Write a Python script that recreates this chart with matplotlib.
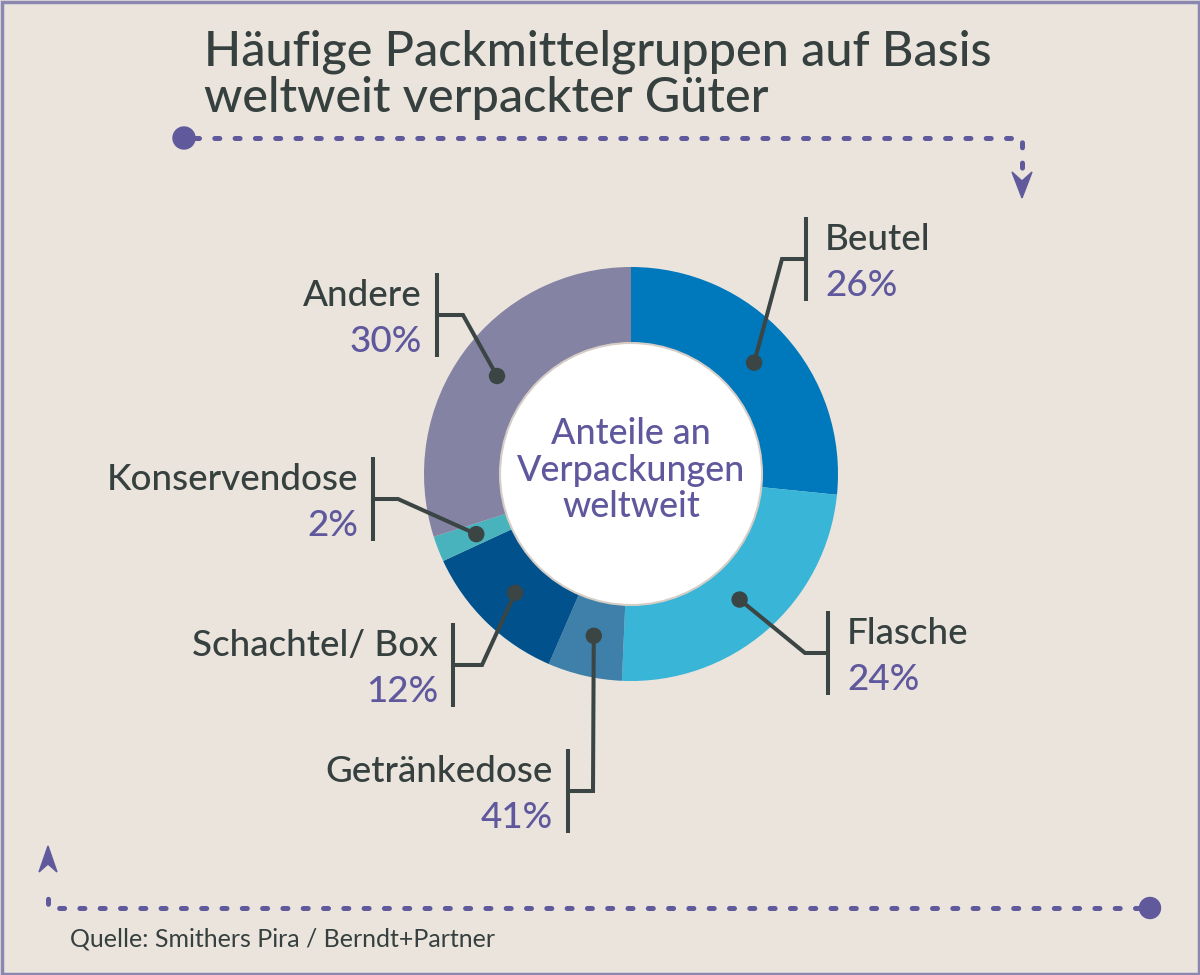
import numpy as np
import matplotlib
matplotlib.use('Agg')
import matplotlib.pyplot as plt
from matplotlib.patches import Circle, Polygon, Rectangle

plt.rcParams['font.family'] = ['Lato', 'DejaVu Sans']

# Data (slice shares as drawn, labels as printed)
categories = ['Beutel', 'Flasche', 'Getränkedose', 'Schachtel/ Box', 'Konservendose', 'Andere']
shares = [26.6, 24.1, 5.8, 11.6, 2.0, 29.9]
pct_labels = ['26%', '24%', '41%', '12%', '2%', '30%']
slice_colors = ['#0078BC', '#38B5D7', '#3E80A9', '#01518C', '#48B2BD', '#8483A4']

# Label layout: bracket x, bracket centre y, elbow x, side
bar_x = [806, 828, 568, 453, 373, 437]
bar_y = [259, 653, 791, 665, 499, 315]
elbow_x = [782, 805, 593, 482, 398, 463]
side = ['right', 'right', 'left', 'left', 'left', 'left']

BG = '#EAE4DD'
DARK = '#36403F'
PURPLE = '#5F589D'
LINE = '#3B4544'

fig = plt.figure(figsize=(12, 9.75), dpi=100, facecolor=BG)
ax = fig.add_axes([0, 0, 1, 1])
ax.set_facecolor(BG)

cx, cy, R, r_in = 631, 474, 207, 131

# y axis will be inverted -> start at -90 and go counterclockwise in data
wedges, _ = ax.pie(shares, colors=slice_colors, startangle=-90, counterclock=True,
                   radius=R, center=(cx, cy), wedgeprops=dict(linewidth=0))
ax.add_patch(Circle((cx, cy), r_in, facecolor='white', edgecolor='#D6CEC6',
                    linewidth=1.5, zorder=3))

for txt, yb in [('Anteile an', 444), ('Verpackungen', 481), ('weltweit', 517)]:
    ax.text(cx, yb, txt, ha='center', va='baseline', fontsize=25.8,
            fontweight='medium', color=PURPLE, zorder=4)

# leader lines, dots, brackets and labels
for i, w in enumerate(wedges):
    mid = np.deg2rad((w.theta1 + w.theta2) / 2)
    dx = cx + 166 * np.cos(mid)
    dy = cy + 166 * np.sin(mid)
    hy = bar_y[i]
    ax.plot([dx, elbow_x[i], bar_x[i]], [dy, hy, hy], color=LINE, lw=2.9,
            solid_joinstyle='miter', zorder=5)
    ax.plot([bar_x[i], bar_x[i]], [hy - 42, hy + 42], color=LINE, lw=2.9,
            solid_capstyle='butt', zorder=5)
    ax.add_patch(Circle((dx, dy), 7.5, color=LINE, zorder=6))
    if side[i] == 'right':
        tx, ha = bar_x[i] + 19, 'left'
    else:
        tx, ha = bar_x[i] - 15, 'right'
    ax.text(tx, hy - 9, categories[i], ha=ha, va='baseline', fontsize=26.5,
            fontweight='medium', color=DARK)
    ax.text(tx, hy + 37, pct_labels[i], ha=ha, va='baseline', fontsize=26.5,
            fontweight='medium', color=PURPLE)

# title
ax.text(204, 65, 'Häufige Packmittelgruppen auf Basis', ha='left', va='baseline',
        fontsize=35, fontweight='medium', color=DARK)
ax.text(204, 112, 'weltweit verpackter Güter', ha='left', va='baseline',
        fontsize=35, fontweight='medium', color=DARK)

# dotted decoration lines
DOTC = '#605A9C'
dot_style = dict(color=DOTC, lw=3.6, linestyle=(0, (1.0, 3.06)),
                 dash_capstyle='round')
ax.plot([194, 1022, 1022], [138, 138, 168], **dot_style)
ax.add_patch(Circle((184, 138), 11, color=DOTC))
ax.add_patch(Polygon([[1022, 198], [1012, 172], [1022, 181], [1032, 172]],
                     closed=True, color=DOTC))

ax.plot([1140, 48, 48], [908, 908, 886], **dot_style)
ax.add_patch(Circle((1150, 908), 10.5, color=DOTC))
ax.add_patch(Polygon([[48, 846], [39, 872], [48, 864], [57, 872]],
                     closed=True, color=DOTC))

ax.text(70, 947, 'Quelle: Smithers Pira / Berndt+Partner', ha='left',
        va='baseline', fontsize=18, color=DARK)

# frame
ax.add_patch(Rectangle((1.5, 1.5), 1197, 972, fill=False, edgecolor='#8B87B0',
                       linewidth=2.5, zorder=10))

ax.set_xlim(0, 1200)
ax.set_ylim(975, 0)
ax.set_aspect('equal')
ax.axis('off')

fig.savefig('out.png', dpi=100, facecolor=BG)
